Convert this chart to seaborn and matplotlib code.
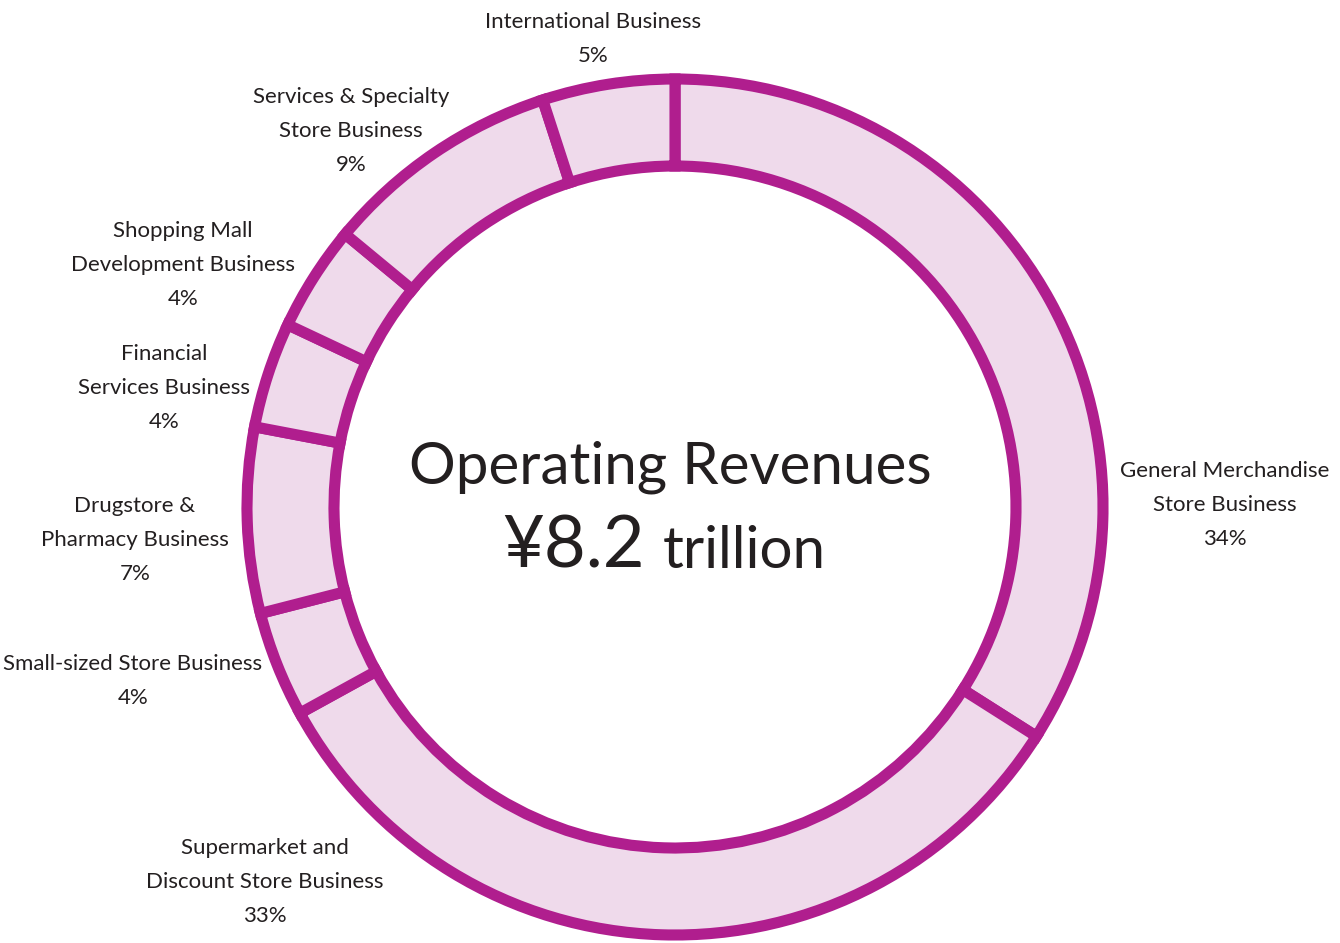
import matplotlib.pyplot as plt
import seaborn as sns

segments = ["General Merchandise\nStore Business", "Supermarket and\nDiscount Store Business",
            "Small-sized Store Business", "Drugstore &\nPharmacy Business",
            "Financial\nServices Business", "Shopping Mall\nDevelopment Business",
            "Services & Specialty\nStore Business", "International Business"]
shares = [34, 33, 4, 7, 4, 4, 9, 5]
# label block centres in pixels (x, y from top)
label_pos = [(1225, 505), (265, 882), (133, 681), (135, 540),
             (164, 388), (183, 265), (351, 131), (593, 39)]

sns.set_theme(style="white")
plt.rcParams["font.family"] = ["Lato", "DejaVu Sans"]

W, H = 1340, 943
cx, cy, R = 675, 507, 428
edge = "#B01E8E"
fill = "#EFDAEB"
ink = "#231F20"

fig = plt.figure(figsize=(W / 100, H / 100), dpi=100)
ax = fig.add_axes([0, 0, 1, 1])
ax.pie(shares, radius=1, startangle=90, counterclock=False, colors=[fill] * len(shares),
       wedgeprops=dict(width=1 - 341 / R, edgecolor=edge, linewidth=8))
ax.set_aspect("auto")
ax.set_xlim(-cx / R, (W - cx) / R)
ax.set_ylim(-(H - cy) / R, cy / R)
ax.axis("off")


def fp(x, y):
    return x / W, 1 - y / H


for name, pct, (x, y) in zip(segments, shares, label_pos):
    fig.text(*fp(x, y), f"{name}\n{pct}%", ha="center", va="center", multialignment="center",
             fontsize=16, color=ink, linespacing=1.86)

fig.text(*fp(670, 484), "Operating Revenues", ha="center", va="baseline", fontsize=42,
         color=ink)
fig.text(*fp(645, 568), "¥8.2", ha="right", va="baseline", fontsize=52, color=ink)
fig.text(*fp(663, 568), "trillion", ha="left", va="baseline", fontsize=42, color=ink)

fig.savefig("out.png", dpi=100)
